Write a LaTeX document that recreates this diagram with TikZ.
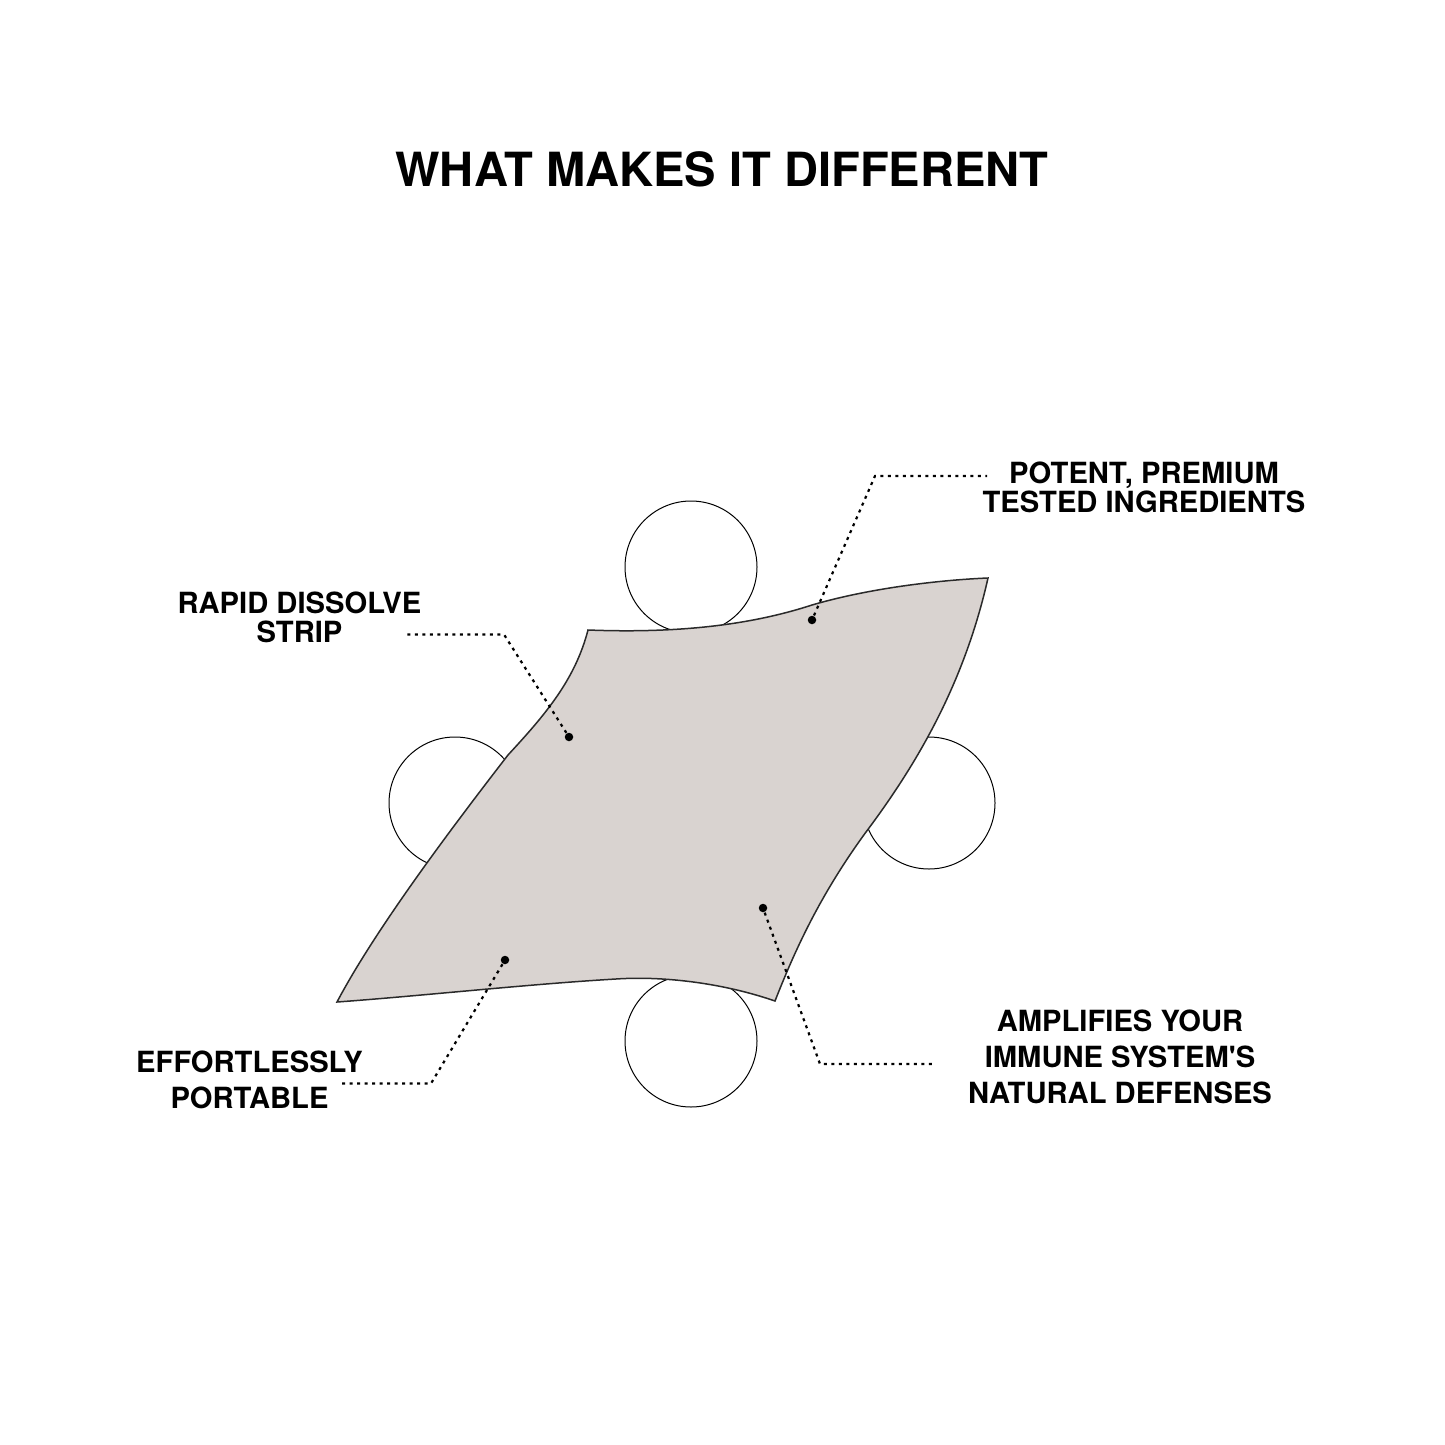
\documentclass[tikz,border=0pt]{standalone}
\usepackage{xcolor}
\usepackage{tikz}
\usepackage{fontspec}
\setmainfont{TeX Gyre Heros}
\newfontfamily\plainheros{TeX Gyre Heros}
\usetikzlibrary{positioning}
\definecolor{stripgrey}{HTML}{D9D3D0}
\definecolor{edgegrey}{HTML}{2A2A2A}

\tikzset{
  pod/.style={draw=black, line width=0.1mm, fill=white},
  leader/.style={line width=0.22mm, dash pattern=on 0.3mm off 0.45mm},
  pin/.style={circle, fill=black, inner sep=0pt, minimum size=0.85mm},
  callout/.style={font=\plainheros\fontsize{8.3}{8.2}\selectfont\bfseries, align=center, inner sep=0pt, anchor=base},
  callout low/.style={callout, font=\plainheros\fontsize{8.3}{10.2}\selectfont\bfseries}
}

\begin{document}
\begin{tikzpicture}[x=0.1mm, y=-0.1mm]
    \useasboundingbox[fill=white] (0,0) rectangle (1445,1445);

    % Title
    \node[font=\fontsize{13.4}{16}\selectfont\bfseries, anchor=base, inner sep=0pt] (title) at (722,187) {WHAT MAKES IT DIFFERENT};

    % Round pods behind the strip
    \draw[pod] (691,567) circle[radius=6.6mm];
    \draw[pod] (455,803) circle[radius=6.6mm];
    \draw[pod] (929,803) circle[radius=6.6mm];
    \draw[pod] (691,1041) circle[radius=6.6mm];

    % Strip
    \filldraw[fill=stripgrey, draw=edgegrey, line width=0.15mm]
      (588,630) .. controls (690,634) and (760,622) .. (812,605)
                .. controls (870,588) and (940,580) .. (988,578)
                .. controls (965,680) and (920,760) .. (866,832)
                .. controls (820,895) and (795,950) .. (775,1001)
                .. controls (720,982) and (660,976) .. (616,979)
                .. controls (530,984) and (420,996) .. (337,1002)
                .. controls (375,930) and (450,830) .. (508,755)
                .. controls (545,715) and (575,680) .. (588,630) -- cycle;

    % Pins on the strip
    \node[pin] (rapidpin) at (569,737) {};
    \node[pin] (potentpin) at (812,620) {};
    \node[pin] (immunepin) at (763,908) {};
    \node[pin] (portablepin) at (505,960) {};

    % Labels (anchored on the last baseline)
    \node[callout] (rapid) at (299.5,642) {RAPID DISSOLVE\\STRIP};
    \node[callout] (potent) at (1144,512) {POTENT, PREMIUM\\TESTED INGREDIENTS};
    \node[callout low] (immune) at (1120,1103) {AMPLIFIES YOUR\\IMMUNE SYSTEM'S\\NATURAL DEFENSES};
    \node[callout low] (portable) at (249.5,1108) {EFFORTLESSLY\\PORTABLE};

    % Leader bends and ends
    \coordinate (rapidbend) at (504,634.5);
    \coordinate (rapidend) at (407,634.5);
    \coordinate (potentbend) at (875,476);
    \coordinate (potentend) at (987,476);
    \coordinate (immunebend) at (820,1064);
    \coordinate (immuneend) at (936,1064);
    \coordinate (portablebend) at (431,1083.5);
    \coordinate (portableend) at (342,1083.5);

    \draw[leader] (rapidpin) -- (rapidbend) -- (rapidend);
    \draw[leader] (potentpin) -- (potentbend) -- (potentend);
    \draw[leader] (immunepin) -- (immunebend) -- (immuneend);
    \draw[leader] (portablepin) -- (portablebend) -- (portableend);
\end{tikzpicture}
\end{document}
